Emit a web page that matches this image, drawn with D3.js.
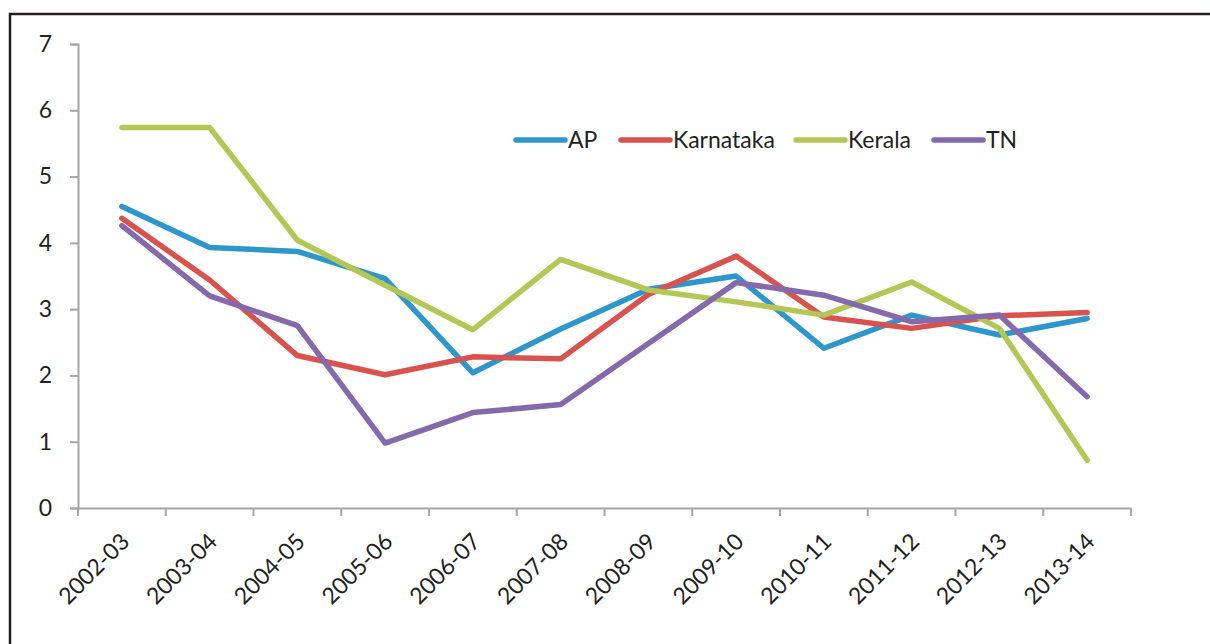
<!DOCTYPE html>
<html>
<head>
<meta charset="utf-8">
<script src="https://cdn.jsdelivr.net/npm/d3@7"></script>
<style>
  body { margin: 0; background: #fff; }
  text { font-family: Lato, "Open Sans", sans-serif; fill: #231f20; }
</style>
</head>
<body>
<div id="chart"></div>
<script>
// values
var years = ["2002-03","2003-04","2004-05","2005-06","2006-07","2007-08",
             "2008-09","2009-10","2010-11","2011-12","2012-13","2013-14"];
var ap        = [4.55, 3.93, 3.87, 3.46, 2.04, 2.70, 3.30, 3.50, 2.41, 2.91, 2.61, 2.86];
var karnataka = [4.37, 3.44, 2.30, 2.01, 2.28, 2.25, 3.22, 3.80, 2.88, 2.71, 2.90, 2.95];
var kerala    = [5.74, 5.74, 4.04, 3.36, 2.69, 3.75, 3.29, 3.11, 2.91, 3.41, 2.71, 0.72];
var tn        = [4.26, 3.20, 2.75, 0.98, 1.44, 1.56, 2.48, 3.40, 3.21, 2.81, 2.91, 1.68];
var yTicks    = [0, 1, 2, 3, 4, 5, 6, 7];

var series = [
  {name: "AP",        values: ap,        color: "#2c96cd"},
  {name: "Karnataka", values: karnataka, color: "#d9524e"},
  {name: "Kerala",    values: kerala,    color: "#b4c654"},
  {name: "TN",        values: tn,        color: "#8469ad"}
];

var width = 1210, height = 644;

var svg = d3.select("#chart")
            .append("svg")
            .attr("width", width)
            .attr("height", height);

//outer frame of the chart area
svg.append("rect")
    .attr("x", 10)
    .attr("y", 14)
    .attr("width", 1220)
    .attr("height", 700)
    .attr("fill", "none")
    .attr("stroke", "#231f20")
    .attr("stroke-width", 2.5);

var x = d3.scaleBand()
          .domain(years)
          .range([78, 1131]);

var y = d3.scaleLinear()
          .domain([0, 7])
          .range([508, 44]);

//y axis
var yAxis = svg.append("g")
    .attr("transform", "translate(78,0)")
    .call(d3.axisLeft(y).tickValues(yTicks).tickSize(8).tickPadding(18).tickFormat(d3.format("d")));

//x axis, ticks on band edges
var xAxis = svg.append("g")
    .attr("transform", "translate(0,508)")
    .call(d3.axisBottom(x).tickSize(0).tickFormat(""));

xAxis.selectAll(".edge")
    .data(years.concat(["end"]))
    .enter()
    .append("line")
    .attr("class", "edge")
    .attr("x1", function(d, i){ return x.range()[0] + i * x.bandwidth(); })
    .attr("x2", function(d, i){ return x.range()[0] + i * x.bandwidth(); })
    .attr("y1", 0)
    .attr("y2", 8);

svg.selectAll(".domain, .tick line, .edge")
    .attr("stroke", "#a6a6a6")
    .attr("stroke-width", 2);

yAxis.selectAll("text")
    .style("font-size", "23px")
    .attr("fill", "#231f20");

svg.selectAll(".xlabel")
    .data(years)
    .enter()
    .append("text")
    .attr("class", "xlabel")
    .attr("text-anchor", "end")
    .attr("transform", function(d){
        return "translate(" + (x(d) + x.bandwidth() / 2 + 9) + ",543) rotate(-45)";
    })
    .style("font-size", "23px")
    .text(function(d){ return d; });

//lines
var line = d3.line()
    .x(function(d, i){ return x(years[i]) + x.bandwidth() / 2; })
    .y(function(d){ return y(d); });

svg.selectAll(".series")
    .data(series)
    .enter()
    .append("path")
    .attr("class", "series")
    .attr("d", function(d){ return line(d.values); })
    .attr("fill", "none")
    .attr("stroke", function(d){ return d.color; })
    .attr("stroke-width", 5.5)
    .attr("stroke-linecap", "round")
    .attr("stroke-linejoin", "round");

//legend
var legendX = [516, 621, 796, 934];
var legend = svg.selectAll(".legend")
    .data(series)
    .enter()
    .append("g")
    .attr("class", "legend")
    .attr("transform", function(d, i){ return "translate(" + legendX[i] + ",140)"; });

legend.append("line")
    .attr("x1", 0)
    .attr("x2", 49)
    .attr("stroke", function(d){ return d.color; })
    .attr("stroke-width", 5.5)
    .attr("stroke-linecap", "round");

legend.append("text")
    .attr("x", 52)
    .attr("y", 8)
    .style("font-size", "23px")
    .text(function(d){ return d.name; });
</script>
</body>
</html>
